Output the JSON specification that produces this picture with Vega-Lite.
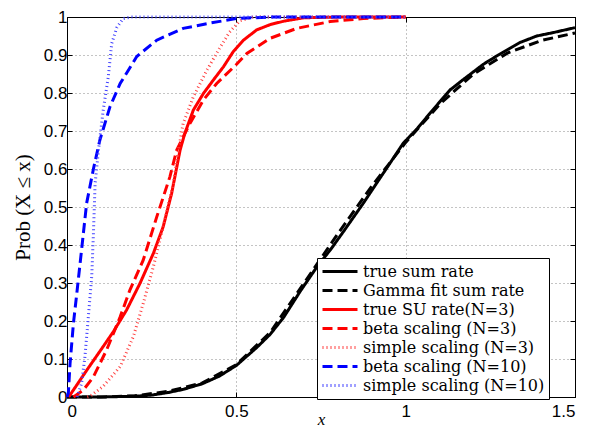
{
  "$schema": "https://vega.github.io/schema/vega-lite/v6.json",
  "width": 508,
  "height": 380,
  "autosize": {"type": "none"},
  "padding": {"left": 67, "top": 17, "right": 25, "bottom": 33},
  "background": "white",
  "config": {
    "view": {"stroke": "black", "strokeWidth": 1},
    "axis": {
      "domainColor": "black",
      "tickColor": "black",
      "tickSize": -5,
      "labelFont": "Liberation Sans",
      "labelFontSize": 17,
      "labelColor": "black",
      "gridColor": "#888888",
      "gridDash": [1, 3],
      "gridWidth": 1,
      "titleColor": "black",
      "titleFont": "Liberation Serif",
      "titleFontWeight": "normal",
      "titleFontSize": 21
    }
  },
  "data": {
    "values": [
      {"series": "true sum rate", "x": 0, "y": 0},
      {"series": "true sum rate", "x": 0.1, "y": 0},
      {"series": "true sum rate", "x": 0.2, "y": 0.002},
      {"series": "true sum rate", "x": 0.25, "y": 0.005},
      {"series": "true sum rate", "x": 0.3, "y": 0.012},
      {"series": "true sum rate", "x": 0.343, "y": 0.02},
      {"series": "true sum rate", "x": 0.4, "y": 0.035},
      {"series": "true sum rate", "x": 0.45, "y": 0.055},
      {"series": "true sum rate", "x": 0.5, "y": 0.083},
      {"series": "true sum rate", "x": 0.56, "y": 0.13},
      {"series": "true sum rate", "x": 0.6, "y": 0.165},
      {"series": "true sum rate", "x": 0.64, "y": 0.21},
      {"series": "true sum rate", "x": 0.69, "y": 0.28},
      {"series": "true sum rate", "x": 0.74, "y": 0.345},
      {"series": "true sum rate", "x": 0.78, "y": 0.39},
      {"series": "true sum rate", "x": 0.82, "y": 0.44},
      {"series": "true sum rate", "x": 0.875, "y": 0.51},
      {"series": "true sum rate", "x": 0.934, "y": 0.589},
      {"series": "true sum rate", "x": 0.993, "y": 0.668},
      {"series": "true sum rate", "x": 1.033, "y": 0.705},
      {"series": "true sum rate", "x": 1.072, "y": 0.747},
      {"series": "true sum rate", "x": 1.131, "y": 0.808},
      {"series": "true sum rate", "x": 1.171, "y": 0.836},
      {"series": "true sum rate", "x": 1.23, "y": 0.876},
      {"series": "true sum rate", "x": 1.27, "y": 0.898},
      {"series": "true sum rate", "x": 1.338, "y": 0.933},
      {"series": "true sum rate", "x": 1.387, "y": 0.95},
      {"series": "true sum rate", "x": 1.436, "y": 0.959},
      {"series": "true sum rate", "x": 1.5, "y": 0.972},

      {"series": "Gamma fit sum rate", "x": 0, "y": 0},
      {"series": "Gamma fit sum rate", "x": 0.1, "y": 0},
      {"series": "Gamma fit sum rate", "x": 0.2, "y": 0.003},
      {"series": "Gamma fit sum rate", "x": 0.3, "y": 0.015},
      {"series": "Gamma fit sum rate", "x": 0.4, "y": 0.037},
      {"series": "Gamma fit sum rate", "x": 0.5, "y": 0.085},
      {"series": "Gamma fit sum rate", "x": 0.6, "y": 0.17},
      {"series": "Gamma fit sum rate", "x": 0.7, "y": 0.3},
      {"series": "Gamma fit sum rate", "x": 0.8, "y": 0.43},
      {"series": "Gamma fit sum rate", "x": 0.9, "y": 0.555},
      {"series": "Gamma fit sum rate", "x": 1.0, "y": 0.67},
      {"series": "Gamma fit sum rate", "x": 1.1, "y": 0.77},
      {"series": "Gamma fit sum rate", "x": 1.2, "y": 0.85},
      {"series": "Gamma fit sum rate", "x": 1.3, "y": 0.905},
      {"series": "Gamma fit sum rate", "x": 1.4, "y": 0.938},
      {"series": "Gamma fit sum rate", "x": 1.5, "y": 0.958},

      {"series": "true SU rate(N=3)", "x": 0.005, "y": 0},
      {"series": "true SU rate(N=3)", "x": 0.058, "y": 0.07},
      {"series": "true SU rate(N=3)", "x": 0.107, "y": 0.133},
      {"series": "true SU rate(N=3)", "x": 0.137, "y": 0.172},
      {"series": "true SU rate(N=3)", "x": 0.176, "y": 0.229},
      {"series": "true SU rate(N=3)", "x": 0.216, "y": 0.3},
      {"series": "true SU rate(N=3)", "x": 0.255, "y": 0.378},
      {"series": "true SU rate(N=3)", "x": 0.284, "y": 0.448},
      {"series": "true SU rate(N=3)", "x": 0.309, "y": 0.536},
      {"series": "true SU rate(N=3)", "x": 0.334, "y": 0.65},
      {"series": "true SU rate(N=3)", "x": 0.348, "y": 0.694},
      {"series": "true SU rate(N=3)", "x": 0.373, "y": 0.755},
      {"series": "true SU rate(N=3)", "x": 0.403, "y": 0.799},
      {"series": "true SU rate(N=3)", "x": 0.432, "y": 0.834},
      {"series": "true SU rate(N=3)", "x": 0.462, "y": 0.869},
      {"series": "true SU rate(N=3)", "x": 0.491, "y": 0.909},
      {"series": "true SU rate(N=3)", "x": 0.521, "y": 0.939},
      {"series": "true SU rate(N=3)", "x": 0.56, "y": 0.966},
      {"series": "true SU rate(N=3)", "x": 0.6, "y": 0.98},
      {"series": "true SU rate(N=3)", "x": 0.64, "y": 0.989},
      {"series": "true SU rate(N=3)", "x": 0.7, "y": 0.998},
      {"series": "true SU rate(N=3)", "x": 0.8, "y": 1},
      {"series": "true SU rate(N=3)", "x": 1.0, "y": 1},

      {"series": "beta scaling (N=3)", "x": 0.019, "y": 0},
      {"series": "beta scaling (N=3)", "x": 0.048, "y": 0.018},
      {"series": "beta scaling (N=3)", "x": 0.078, "y": 0.053},
      {"series": "beta scaling (N=3)", "x": 0.117, "y": 0.124},
      {"series": "beta scaling (N=3)", "x": 0.157, "y": 0.211},
      {"series": "beta scaling (N=3)", "x": 0.186, "y": 0.282},
      {"series": "beta scaling (N=3)", "x": 0.225, "y": 0.36},
      {"series": "beta scaling (N=3)", "x": 0.265, "y": 0.474},
      {"series": "beta scaling (N=3)", "x": 0.304, "y": 0.58},
      {"series": "beta scaling (N=3)", "x": 0.324, "y": 0.65},
      {"series": "beta scaling (N=3)", "x": 0.363, "y": 0.72},
      {"series": "beta scaling (N=3)", "x": 0.403, "y": 0.782},
      {"series": "beta scaling (N=3)", "x": 0.442, "y": 0.825},
      {"series": "beta scaling (N=3)", "x": 0.5, "y": 0.875},
      {"series": "beta scaling (N=3)", "x": 0.531, "y": 0.904},
      {"series": "beta scaling (N=3)", "x": 0.6, "y": 0.944},
      {"series": "beta scaling (N=3)", "x": 0.678, "y": 0.97},
      {"series": "beta scaling (N=3)", "x": 0.777, "y": 0.988},
      {"series": "beta scaling (N=3)", "x": 0.875, "y": 0.996},
      {"series": "beta scaling (N=3)", "x": 1.0, "y": 1},

      {"series": "simple scaling (N=3)", "x": 0.06, "y": 0},
      {"series": "simple scaling (N=3)", "x": 0.068, "y": 0.002},
      {"series": "simple scaling (N=3)", "x": 0.107, "y": 0.028},
      {"series": "simple scaling (N=3)", "x": 0.157, "y": 0.08},
      {"series": "simple scaling (N=3)", "x": 0.196, "y": 0.159},
      {"series": "simple scaling (N=3)", "x": 0.225, "y": 0.246},
      {"series": "simple scaling (N=3)", "x": 0.255, "y": 0.343},
      {"series": "simple scaling (N=3)", "x": 0.284, "y": 0.448},
      {"series": "simple scaling (N=3)", "x": 0.314, "y": 0.562},
      {"series": "simple scaling (N=3)", "x": 0.329, "y": 0.65},
      {"series": "simple scaling (N=3)", "x": 0.343, "y": 0.72},
      {"series": "simple scaling (N=3)", "x": 0.373, "y": 0.79},
      {"series": "simple scaling (N=3)", "x": 0.413, "y": 0.86},
      {"series": "simple scaling (N=3)", "x": 0.452, "y": 0.92},
      {"series": "simple scaling (N=3)", "x": 0.48, "y": 0.96},
      {"series": "simple scaling (N=3)", "x": 0.51, "y": 0.99},
      {"series": "simple scaling (N=3)", "x": 0.55, "y": 1},
      {"series": "simple scaling (N=3)", "x": 1.0, "y": 1},

      {"series": "beta scaling (N=10)", "x": 0, "y": 0},
      {"series": "beta scaling (N=10)", "x": 0.004, "y": 0.01},
      {"series": "beta scaling (N=10)", "x": 0.009, "y": 0.088},
      {"series": "beta scaling (N=10)", "x": 0.019, "y": 0.194},
      {"series": "beta scaling (N=10)", "x": 0.029, "y": 0.273},
      {"series": "beta scaling (N=10)", "x": 0.043, "y": 0.387},
      {"series": "beta scaling (N=10)", "x": 0.058, "y": 0.51},
      {"series": "beta scaling (N=10)", "x": 0.078, "y": 0.6},
      {"series": "beta scaling (N=10)", "x": 0.097, "y": 0.676},
      {"series": "beta scaling (N=10)", "x": 0.127, "y": 0.764},
      {"series": "beta scaling (N=10)", "x": 0.157, "y": 0.825},
      {"series": "beta scaling (N=10)", "x": 0.206, "y": 0.896},
      {"series": "beta scaling (N=10)", "x": 0.265, "y": 0.939},
      {"series": "beta scaling (N=10)", "x": 0.343, "y": 0.97},
      {"series": "beta scaling (N=10)", "x": 0.422, "y": 0.984},
      {"series": "beta scaling (N=10)", "x": 0.501, "y": 0.996},
      {"series": "beta scaling (N=10)", "x": 0.6, "y": 1},
      {"series": "beta scaling (N=10)", "x": 1.0, "y": 1},

      {"series": "simple scaling (N=10)", "x": 0.03, "y": 0},
      {"series": "simple scaling (N=10)", "x": 0.043, "y": 0.036},
      {"series": "simple scaling (N=10)", "x": 0.053, "y": 0.106},
      {"series": "simple scaling (N=10)", "x": 0.063, "y": 0.211},
      {"series": "simple scaling (N=10)", "x": 0.073, "y": 0.317},
      {"series": "simple scaling (N=10)", "x": 0.078, "y": 0.43},
      {"series": "simple scaling (N=10)", "x": 0.083, "y": 0.562},
      {"series": "simple scaling (N=10)", "x": 0.093, "y": 0.65},
      {"series": "simple scaling (N=10)", "x": 0.107, "y": 0.755},
      {"series": "simple scaling (N=10)", "x": 0.122, "y": 0.843},
      {"series": "simple scaling (N=10)", "x": 0.132, "y": 0.93},
      {"series": "simple scaling (N=10)", "x": 0.147, "y": 0.972},
      {"series": "simple scaling (N=10)", "x": 0.166, "y": 0.996},
      {"series": "simple scaling (N=10)", "x": 0.19, "y": 1},
      {"series": "simple scaling (N=10)", "x": 1.0, "y": 1}
    ]
  },
  "layer": [
    {
      "mark": {"type": "line", "strokeCap": "butt"},
      "encoding": {
        "x": {
          "field": "x", "type": "quantitative",
          "scale": {"domain": [0, 1.5], "nice": false, "zero": false},
          "axis": {"values": [0, 0.5, 1, 1.5], "format": "~g", "title": "x", "titleFontStyle": "italic", "titleFontSize": 17, "labelPadding": 11, "titlePadding": -8, "grid": true}
        },
        "y": {
          "field": "y", "type": "quantitative",
          "scale": {"domain": [0, 1], "nice": false},
          "axis": {"values": [0, 0.1, 0.2, 0.3, 0.4, 0.5, 0.6, 0.7, 0.8, 0.9, 1], "format": "~g", "title": "Prob (X ≤ x)", "labelPadding": 5, "titlePadding": 10, "grid": true}
        },
        "color": {
          "field": "series", "type": "nominal",
          "scale": {
            "domain": ["true sum rate", "Gamma fit sum rate", "true SU rate(N=3)", "beta scaling (N=3)", "simple scaling (N=3)", "beta scaling (N=10)", "simple scaling (N=10)"],
            "range": ["#000000", "#000000", "#ff0000", "#ff0000", "#ff4040", "#0000ff", "#4040ff"]
          },
          "legend": {
            "title": null,
            "orient": "none",
            "legendX": 250,
            "legendY": 241,
            "strokeColor": "black",
            "fillColor": "white",
            "padding": 4,
            "symbolType": "stroke",
            "symbolSize": 1225,
            "clipHeight": 19,
            "rowPadding": 0,
            "labelOffset": 4,
            "labelFont": "DejaVu Serif",
            "labelFontSize": 16,
            "labelColor": "black",
            "labelLimit": 0
          }
        },
        "strokeDash": {
          "field": "series", "type": "nominal",
          "scale": {
            "domain": ["true sum rate", "Gamma fit sum rate", "true SU rate(N=3)", "beta scaling (N=3)", "simple scaling (N=3)", "beta scaling (N=10)", "simple scaling (N=10)"],
            "range": [[1, 0], [10, 5], [1, 0], [10, 5], [1, 3], [10, 5], [1, 3]]
          }
        },
        "strokeWidth": {
          "field": "series", "type": "nominal",
          "scale": {
            "domain": ["true sum rate", "Gamma fit sum rate", "true SU rate(N=3)", "beta scaling (N=3)", "simple scaling (N=3)", "beta scaling (N=10)", "simple scaling (N=10)"],
            "range": [3, 3, 3, 3, 1.5, 3.5, 1.5]
          }
        }
      }
    },
    {
      "mark": {"type": "point", "opacity": 0},
      "encoding": {
        "x": {
          "field": "x", "type": "quantitative",
          "scale": {"domain": [0, 1.5], "nice": false, "zero": false},
          "axis": {"orient": "top", "values": [0, 0.5, 1, 1.5], "labels": false, "title": null, "grid": false}
        },
        "y": {
          "field": "y", "type": "quantitative",
          "scale": {"domain": [0, 1], "nice": false},
          "axis": {"orient": "right", "values": [0, 0.1, 0.2, 0.3, 0.4, 0.5, 0.6, 0.7, 0.8, 0.9, 1], "labels": false, "title": null, "grid": false}
        }
      }
    }
  ],
  "resolve": {"axis": {"x": "independent", "y": "independent"}}
}
